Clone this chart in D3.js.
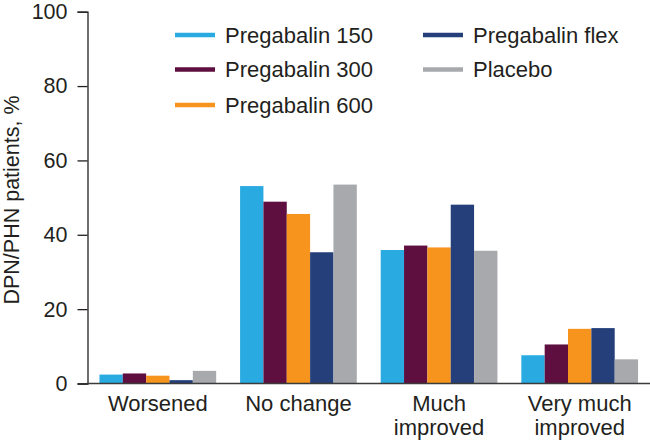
<!DOCTYPE html>
<html><head><meta charset="utf-8">
<script src="https://cdn.jsdelivr.net/npm/d3@7"></script>
<style>body{margin:0;background:#fff}svg{display:block;font-family:Arial,"Liberation Sans",Helvetica,sans-serif}</style>
</head><body>
<svg id="chart" width="650" height="443"></svg>
<script>
const categories = [["Worsened"], ["No change"], ["Much", "improved"], ["Very much", "improved"]];
const seriesNames = ["Pregabalin 150", "Pregabalin 300", "Pregabalin 600", "Pregabalin flex", "Placebo"];
const seriesColors = ["#29abe2", "#5f0f3f", "#f7941d", "#243f7a", "#a7a9ac"];
const pregabalin150 = [2.4, 53.1, 35.9, 7.6];
const pregabalin300 = [2.7, 48.9, 37.1, 10.5];
const pregabalin600 = [2.1, 45.6, 36.6, 14.7];
const pregabalinFlex = [0.9, 35.3, 48.1, 14.9];
const placebo = [3.4, 53.5, 35.7, 6.5];
const yTicks = [0, 20, 40, 60, 80, 100];

const values = [pregabalin150, pregabalin300, pregabalin600, pregabalinFlex, placebo];
const svg = d3.select("#chart");
const x0 = 87.5, x1 = 650, yTop = 11.7, yBot = 383.5;

const x = d3.scaleBand().domain(d3.range(categories.length)).range([x0, x1]).paddingInner(0.17).paddingOuter(0.085);
const xs = d3.scaleBand().domain(d3.range(seriesNames.length)).range([0, x.bandwidth()]);
const y = d3.scaleLinear().domain([0, 100]).range([yBot, yTop]);

// bars
const g = svg.append("g");
categories.forEach((c, ci) => {
  values.forEach((s, si) => {
    g.append("rect")
      .attr("x", x(ci) + xs(si))
      .attr("y", y(s[ci]))
      .attr("width", xs.bandwidth())
      .attr("height", y(0) - y(s[ci]))
      .attr("fill", seriesColors[si]);
  });
});

// y axis
const yAxis = svg.append("g").attr("transform", `translate(${x0},0)`)
  .call(d3.axisLeft(y).tickValues(yTicks).tickSize(10).tickPadding(10));
yAxis.select(".domain").attr("stroke", "#231f20").attr("stroke-width", 1.3);
yAxis.selectAll(".tick line").attr("stroke", "#231f20").attr("stroke-width", 1.3);
yAxis.selectAll("text").attr("font-size", 21.5).attr("fill", "#231f20").attr("font-family", "Arial, 'Liberation Sans', sans-serif");

// x axis baseline
svg.append("line").attr("x1", x0).attr("x2", x1).attr("y1", y(0)).attr("y2", y(0))
  .attr("stroke", "#3b3b3b").attr("stroke-width", 1.5);

// x labels
categories.forEach((c, ci) => {
  const t = svg.append("text").attr("text-anchor", "middle").attr("font-size", 22).attr("fill", "#231f20")
    .attr("x", x(ci) + x.bandwidth() / 2).attr("y", 411);
  c.forEach((line, li) => {
    t.append("tspan").attr("x", x(ci) + x.bandwidth() / 2).attr("dy", li === 0 ? 0 : 24).text(line);
  });
});

// y title
svg.append("text").attr("transform", "translate(18.5,200) rotate(-90)").attr("text-anchor", "middle")
  .attr("font-size", 21.5).attr("fill", "#231f20").text("DPN/PHN patients, %");

// legend
const legendPos = [[175, 35], [175, 69.5], [175, 105], [423, 35], [423, 69.5]];
seriesNames.forEach((n, i) => {
  const [lx, ly] = legendPos[i];
  svg.append("line").attr("x1", lx).attr("x2", lx + 40).attr("y1", ly).attr("y2", ly)
    .attr("stroke", seriesColors[i]).attr("stroke-width", 4.5);
  svg.append("text").attr("x", lx + 50).attr("y", ly).attr("dy", "0.36em")
    .attr("font-size", 22).attr("fill", "#231f20").text(n);
});
</script>
</body></html>
